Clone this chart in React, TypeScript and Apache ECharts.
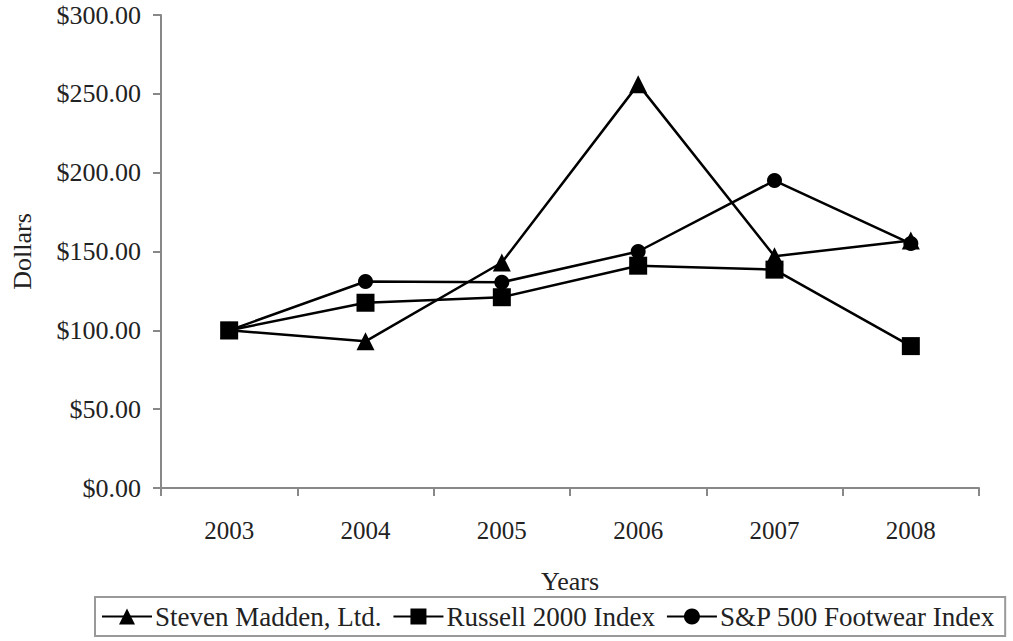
import React, { useEffect, useRef } from "react";
import * as echarts from "echarts";

const years = ["2003", "2004", "2005", "2006", "2007", "2008"];
const stevenMadden = [100, 93, 143, 256, 147, 157];
const russell2000 = [100, 117.5, 121, 141, 138.5, 90];
const spFootwear = [100, 131, 130.5, 150, 195, 155];
const seriesNames = ["Steven Madden, Ltd.", "Russell 2000 Index", "S&P 500 Footwear Index"];

const FONT = "'Liberation Serif', 'Times New Roman', serif";
const TEXT = "#222";

export default function App() {
  const ref = useRef<HTMLDivElement>(null);
  useEffect(() => {
    if (!ref.current) return;
    const chart = echarts.init(ref.current, undefined, { renderer: "svg" });
    const mk = (name: string, data: number[], symbol: string, size: number) => ({
      name,
      type: "line",
      data,
      symbol,
      symbolSize: size,
      lineStyle: { color: "#000", width: 2.5 },
      itemStyle: { color: "#000" },
      emphasis: { disabled: true },
    });
    chart.setOption({
      animation: false,
      backgroundColor: "#fff",
      textStyle: { fontFamily: FONT, color: TEXT },
      grid: { left: 161, right: 34, top: 15, bottom: 153 },
      legend: {
        left: 95,
        top: 597,
        padding: [6, 10, 6, 6],
        itemGap: 11,
        itemWidth: 50,
        itemHeight: 20,
        borderColor: "#999",
        borderWidth: 2,
        textStyle: { fontFamily: FONT, fontSize: 27, color: TEXT, padding: [0, 0, 0, -2] },
        data: seriesNames,
      },
      xAxis: {
        type: "category",
        data: years,
        boundaryGap: true,
        name: "Years",
        nameLocation: "middle",
        nameGap: 80,
        nameTextStyle: { fontFamily: FONT, fontSize: 26, color: TEXT },
        axisLine: { lineStyle: { color: "#888", width: 2 } },
        axisTick: { show: true, length: 8, lineStyle: { color: "#888", width: 2 } },
        axisLabel: { fontFamily: FONT, fontSize: 25, color: TEXT, margin: 30 },
        splitLine: { show: false },
      },
      yAxis: {
        type: "value",
        min: 0,
        max: 300,
        interval: 50,
        name: "Dollars",
        nameLocation: "middle",
        nameGap: 126,
        nameTextStyle: { fontFamily: FONT, fontSize: 26, color: TEXT },
        axisLine: { show: true, lineStyle: { color: "#888", width: 2 } },
        axisTick: { show: true, length: 8, lineStyle: { color: "#888", width: 2 } },
        axisLabel: {
          fontFamily: FONT,
          fontSize: 26,
          color: TEXT,
          margin: 20,
          formatter: (v: number) => "$" + v.toFixed(2),
        },
        splitLine: { show: false },
      },
      series: [
        mk(seriesNames[0], stevenMadden, "triangle", 18),
        mk(seriesNames[1], russell2000, "rect", 18),
        mk(seriesNames[2], spFootwear, "circle", 15),
      ],
    });
    return () => chart.dispose();
  }, []);
  return <div ref={ref} style={{ width: 1013, height: 641, position: "absolute", left: 0, top: 0 }} />;
}
